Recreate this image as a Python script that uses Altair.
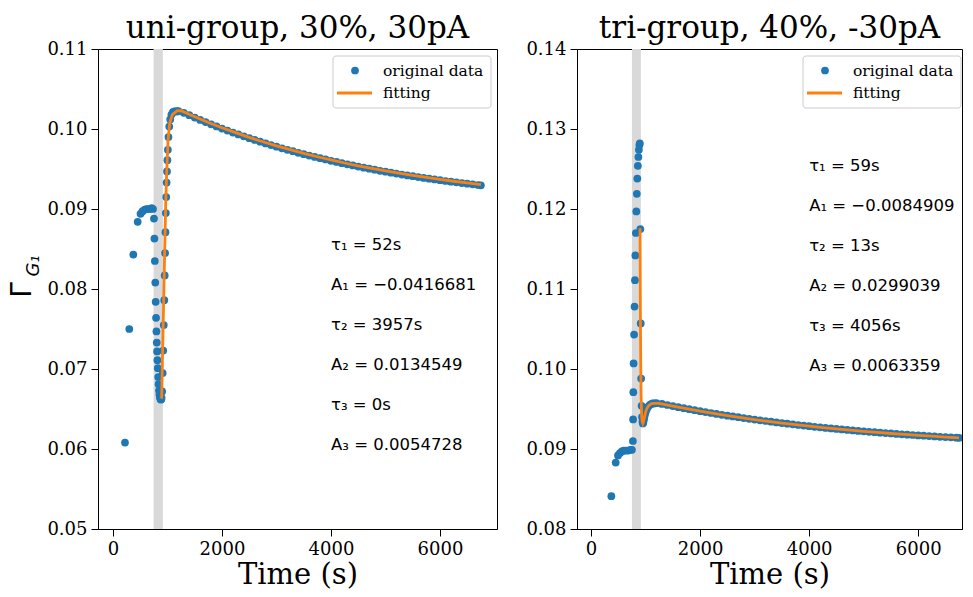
import altair as alt
import pandas as pd

BLUE = "#1f77b4"
ORANGE = "#ff7f0e"
SERIF = "DejaVu Serif"
SANS = "DejaVu Sans"

# ---------------- left panel ----------------
L_title = "uni-group, 30%, 30pA"
L_xdomain = [-275, 7046]
L_ydomain = [0.05, 0.11]
L_yticks = [0.05, 0.06, 0.07, 0.08, 0.09, 0.10, 0.11]
L_span = [745, 915]

L_data_t = [220, 299, 373, 453, 505, 540, 575, 610, 645, 680, 710, 735,
            752, 760, 768, 776, 783, 790, 797, 803, 809, 815, 822, 829, 836, 844, 852, 860, 868, 876, 884, 892,
            902, 912, 922, 932, 941, 949, 956, 963, 970, 977, 984, 991, 998, 1007, 1018, 1032, 1050, 1072, 1098, 1125, 1155, 1180,
            1200, 1300, 1400, 1500, 1600, 1700, 1800, 1900, 2000, 2100, 2200, 2300, 2400, 2500, 2600, 2700, 2800, 2900,
            3000, 3100, 3200, 3300, 3400, 3500, 3600, 3700, 3800, 3900, 4000, 4100, 4200, 4300, 4400, 4500, 4600, 4700,
            4800, 4900, 5000, 5100, 5200, 5300, 5400, 5500, 5600, 5700, 5800, 5900, 6000, 6100, 6200, 6300, 6400, 6500,
            6600, 6700, 6750]
L_data_y = [0.0608, 0.0750, 0.0843, 0.0884, 0.0894, 0.0897, 0.0899, 0.0900, 0.0900, 0.0900, 0.0901, 0.0900,
            0.0888, 0.0863, 0.0835, 0.0808, 0.0784, 0.0764, 0.0747, 0.0733, 0.0722, 0.0711, 0.0701, 0.0690, 0.0681, 0.0673, 0.0668, 0.0665, 0.0663, 0.0662, 0.0662, 0.0664,
            0.0672, 0.0695, 0.0723, 0.0755, 0.0786, 0.0817, 0.0845, 0.0871, 0.0895, 0.0915, 0.0933, 0.0947, 0.0961, 0.0974, 0.0990, 0.1003, 0.1012, 0.1018, 0.1021, 0.1022, 0.1022, 0.1022,
            0.10224, 0.10203, 0.10172, 0.10143, 0.10114, 0.10086, 0.10059, 0.10032, 0.10006, 0.09981, 0.09956, 0.09932, 0.09908, 0.09885, 0.09863, 0.09841, 0.09820, 0.09799,
            0.09779, 0.09759, 0.09740, 0.09722, 0.09703, 0.09685, 0.09668, 0.09651, 0.09635, 0.09619, 0.09603, 0.09588, 0.09573, 0.09558, 0.09544, 0.09530, 0.09517, 0.09504,
            0.09491, 0.09478, 0.09466, 0.09454, 0.09443, 0.09431, 0.09420, 0.09410, 0.09399, 0.09389, 0.09379, 0.09369, 0.09360, 0.09350, 0.09341, 0.09333, 0.09324, 0.09316,
            0.09308, 0.09300, 0.09296]

L_fit_t = [893, 915, 940, 966, 985, 1010, 1040, 1090, 1180, 1250, 1500, 1750, 2000, 2250, 2500, 2750, 3000, 3250, 3500,
           3750, 4000, 4250, 4500, 4750, 5000, 5250, 5500, 5750, 6000, 6250, 6500, 6750]
L_fit_y = [0.0663, 0.0736, 0.0820, 0.0903, 0.0945, 0.0986, 0.1007, 0.1018, 0.1023, 0.10228, 0.10153, 0.10082, 0.10016,
           0.09954, 0.09895, 0.09841, 0.09789, 0.09741, 0.09695, 0.09653, 0.09613, 0.09575, 0.09540, 0.09507, 0.09476,
           0.09447, 0.09420, 0.09394, 0.09370, 0.09347, 0.09326, 0.09306]

L_ann_text = ["τ₁ = 52s", "A₁ = −0.0416681", "τ₂ = 3957s", "A₂ = 0.0134549", "τ₃ = 0s", "A₃ = 0.0054728"]
L_ann_x = [4000] * 6
L_ann_y = [0.0855, 0.0805, 0.0755, 0.0705, 0.0655, 0.0605]

# ---------------- right panel ----------------
R_title = "tri-group, 40%, -30pA"
R_xdomain = [-257, 6803]
R_ydomain = [0.08, 0.14]
R_yticks = [0.08, 0.09, 0.10, 0.11, 0.12, 0.13, 0.14]
R_span = [750, 915]

R_data_t = [373, 453, 495, 530, 565, 600, 640, 680, 720, 750,
            768, 772, 776, 781, 790, 798, 806, 813, 822, 831, 840, 849, 859, 869, 878, 887, 895,
            905, 912, 919, 927, 935, 943, 951, 959, 967, 977, 990, 1005, 1025, 1050, 1075, 1100, 1130, 1160,
            1200, 1300, 1400, 1500, 1600, 1700, 1800, 1900, 2000, 2100, 2200, 2300, 2400, 2500, 2600, 2700, 2800, 2900,
            3000, 3100, 3200, 3300, 3400, 3500, 3600, 3700, 3800, 3900, 4000, 4100, 4200, 4300, 4400, 4500, 4600, 4700,
            4800, 4900, 5000, 5100, 5200, 5300, 5400, 5500, 5600, 5700, 5800, 5900, 6000, 6100, 6200, 6300, 6400, 6500,
            6600, 6700, 6750]
R_data_y = [0.0841, 0.0883, 0.0892, 0.0895, 0.0897, 0.0898, 0.0898, 0.0898, 0.0899, 0.0899,
            0.0910, 0.0937, 0.0971, 0.1007, 0.1043, 0.1078, 0.1111, 0.1142, 0.1170, 0.1197, 0.1219, 0.1238, 0.1254, 0.1265, 0.1274, 0.1280, 0.1282,
            0.1175, 0.1057, 0.0988, 0.0954, 0.0940, 0.0934, 0.0932, 0.0933, 0.0936, 0.0939, 0.0943, 0.0947, 0.0950, 0.0953, 0.0955, 0.0956, 0.0957, 0.0957,
            0.09572, 0.09564, 0.09550, 0.09537, 0.09523, 0.09510, 0.09498, 0.09485, 0.09473, 0.09462, 0.09450, 0.09439, 0.09428, 0.09417, 0.09407, 0.09397, 0.09387, 0.09377,
            0.09368, 0.09358, 0.09350, 0.09341, 0.09332, 0.09324, 0.09316, 0.09308, 0.09300, 0.09293, 0.09285, 0.09278, 0.09271, 0.09264, 0.09257, 0.09251, 0.09245, 0.09238,
            0.09232, 0.09226, 0.09221, 0.09215, 0.09210, 0.09204, 0.09199, 0.09194, 0.09189, 0.09184, 0.09179, 0.09175, 0.09170, 0.09166, 0.09162, 0.09157, 0.09153, 0.09149,
            0.09146, 0.09142, 0.09140]

R_fit_t = [899, 905, 911, 919, 929, 939, 950, 960, 970, 985, 1000, 1025, 1050, 1100, 1150, 1250, 1500, 1750, 2000, 2250,
           2500, 2750, 3000, 3250, 3500, 3750, 4000, 4250, 4500, 4750, 5000, 5250, 5500, 5750, 6000, 6250, 6500, 6750]
R_fit_y = [0.1176, 0.1074, 0.1012, 0.0966, 0.0941, 0.0934, 0.0932, 0.0934, 0.0937, 0.0941, 0.0946, 0.09505, 0.09535,
           0.09565, 0.0957, 0.09571, 0.09537, 0.09504, 0.09473, 0.09444, 0.09417, 0.09392, 0.09368, 0.09345, 0.09324,
           0.09304, 0.09285, 0.09268, 0.09251, 0.09235, 0.09221, 0.09207, 0.09194, 0.09182, 0.09170, 0.09160, 0.09149, 0.09140]

R_ann_text = ["τ₁ = 59s", "A₁ = −0.0084909", "τ₂ = 13s", "A₂ = 0.0299039", "τ₃ = 4056s", "A₃ = 0.0063359"]
R_ann_x = [4000] * 6
R_ann_y = [0.12538, 0.12038, 0.11538, 0.11038, 0.10538, 0.10038]

X_TICKS = [0, 2000, 4000, 6000]
LEGEND_LABELS = ["original data", "fitting"]
H = 480


def one_row():
    return pd.DataFrame({"k": [0]})


def panel(title, xdom, ydom, yticks, span, dt, dy, ft, fy, at, ax_, ay, W, box_left, ytitle):
    xs = alt.Scale(domain=xdom, nice=False, zero=False)
    ys = alt.Scale(domain=ydom, nice=False, zero=False)
    xax = alt.Axis(values=X_TICKS, title="Time (s)", grid=False, format="d")
    yax = alt.Axis(values=yticks, title=None, grid=False, format=".2f")

    span_df = pd.DataFrame({"a": [span[0]], "b": [span[1]]})
    spanl = alt.Chart(span_df).mark_rect(color="#d9d9d9").encode(
        x=alt.X("a:Q", scale=xs, axis=xax), x2="b:Q",
        y=alt.value(0), y2=alt.value(H))

    pts = alt.Chart(pd.DataFrame({"t": dt, "y": dy})).mark_circle(
        color=BLUE, opacity=1, size=60, clip=True).encode(
        x=alt.X("t:Q", scale=xs, axis=xax),
        y=alt.Y("y:Q", scale=ys, axis=yax))

    fit = alt.Chart(pd.DataFrame({"t": ft, "y": fy})).mark_line(
        color=ORANGE, strokeWidth=2.8, clip=True).encode(
        x=alt.X("t:Q", scale=xs), y=alt.Y("y:Q", scale=ys))

    ann = alt.Chart(pd.DataFrame({"t": ax_, "y": ay, "s": at})).mark_text(
        font=SANS, fontSize=16.5, align="left", baseline="middle", color="black").encode(
        x=alt.X("t:Q", scale=xs), y=alt.Y("y:Q", scale=ys), text="s:N")

    # legend drawn inside the axes
    box = alt.Chart(one_row()).mark_rect(
        fill="white", stroke="#cccccc", strokeWidth=1, cornerRadius=3).encode(
        x=alt.value(box_left), x2=alt.value(box_left + 158),
        y=alt.value(7), y2=alt.value(59))
    lpt = alt.Chart(one_row()).mark_circle(color=BLUE, opacity=1, size=60).encode(
        x=alt.value(box_left + 22), y=alt.value(21.5))
    lln = alt.Chart(one_row()).mark_rule(color=ORANGE, strokeWidth=2.8).encode(
        x=alt.value(box_left + 4), x2=alt.value(box_left + 39), y=alt.value(44))
    ltx = alt.Chart(pd.DataFrame({"s": LEGEND_LABELS, "yy": [21.5, 43.5]})).mark_text(
        font=SERIF, fontSize=15.5, align="left", baseline="middle", color="black").encode(
        x=alt.value(box_left + 50), y=alt.Y("yy:Q", scale=None), text="s:N")

    layers = [spanl, pts, fit, ann, box, lpt, lln, ltx]
    if ytitle:
        g = alt.Chart(one_row()).mark_text(
            text="Γ", font=SANS, fontSize=28, angle=270, align="center", baseline="middle",
            color="black").encode(x=alt.value(-75), y=alt.value(241))
        g2 = alt.Chart(one_row()).mark_text(
            text="G₁", font=SANS, fontSize=18, fontStyle="italic", angle=270, align="center",
            baseline="middle", color="black").encode(x=alt.value(-64), y=alt.value(217))
        layers += [g, g2]

    return alt.layer(*layers).properties(
        width=W, height=H,
        title=alt.TitleParams(title, font=SERIF, fontSize=31, fontWeight="normal",
                              color="black", offset=-5))


left = panel(L_title, L_xdomain, L_ydomain, L_yticks, L_span, L_data_t, L_data_y, L_fit_t, L_fit_y,
             L_ann_text, L_ann_x, L_ann_y, 399, 235, True)
right = panel(R_title, R_xdomain, R_ydomain, R_yticks, R_span, R_data_t, R_data_y, R_fit_t, R_fit_y,
              R_ann_text, R_ann_x, R_ann_y, 385, 226, False)

chart = alt.hconcat(left, right, spacing=27).resolve_scale(x="independent", y="independent").configure(
    padding={"left": 0, "top": 4, "right": 0, "bottom": 0},
    background="white",
).configure_view(stroke="black", strokeWidth=1).configure_axis(
    labelFont=SERIF, labelFontSize=18, labelColor="black",
    titleFont=SERIF, titleFontSize=29, titleFontWeight="normal", titleColor="black",
    domainColor="black", tickColor="black", tickSize=7, labelPadding=4, titlePadding=2,
)

chart.save("out.html", embed_options={"renderer": "svg", "actions": False})
